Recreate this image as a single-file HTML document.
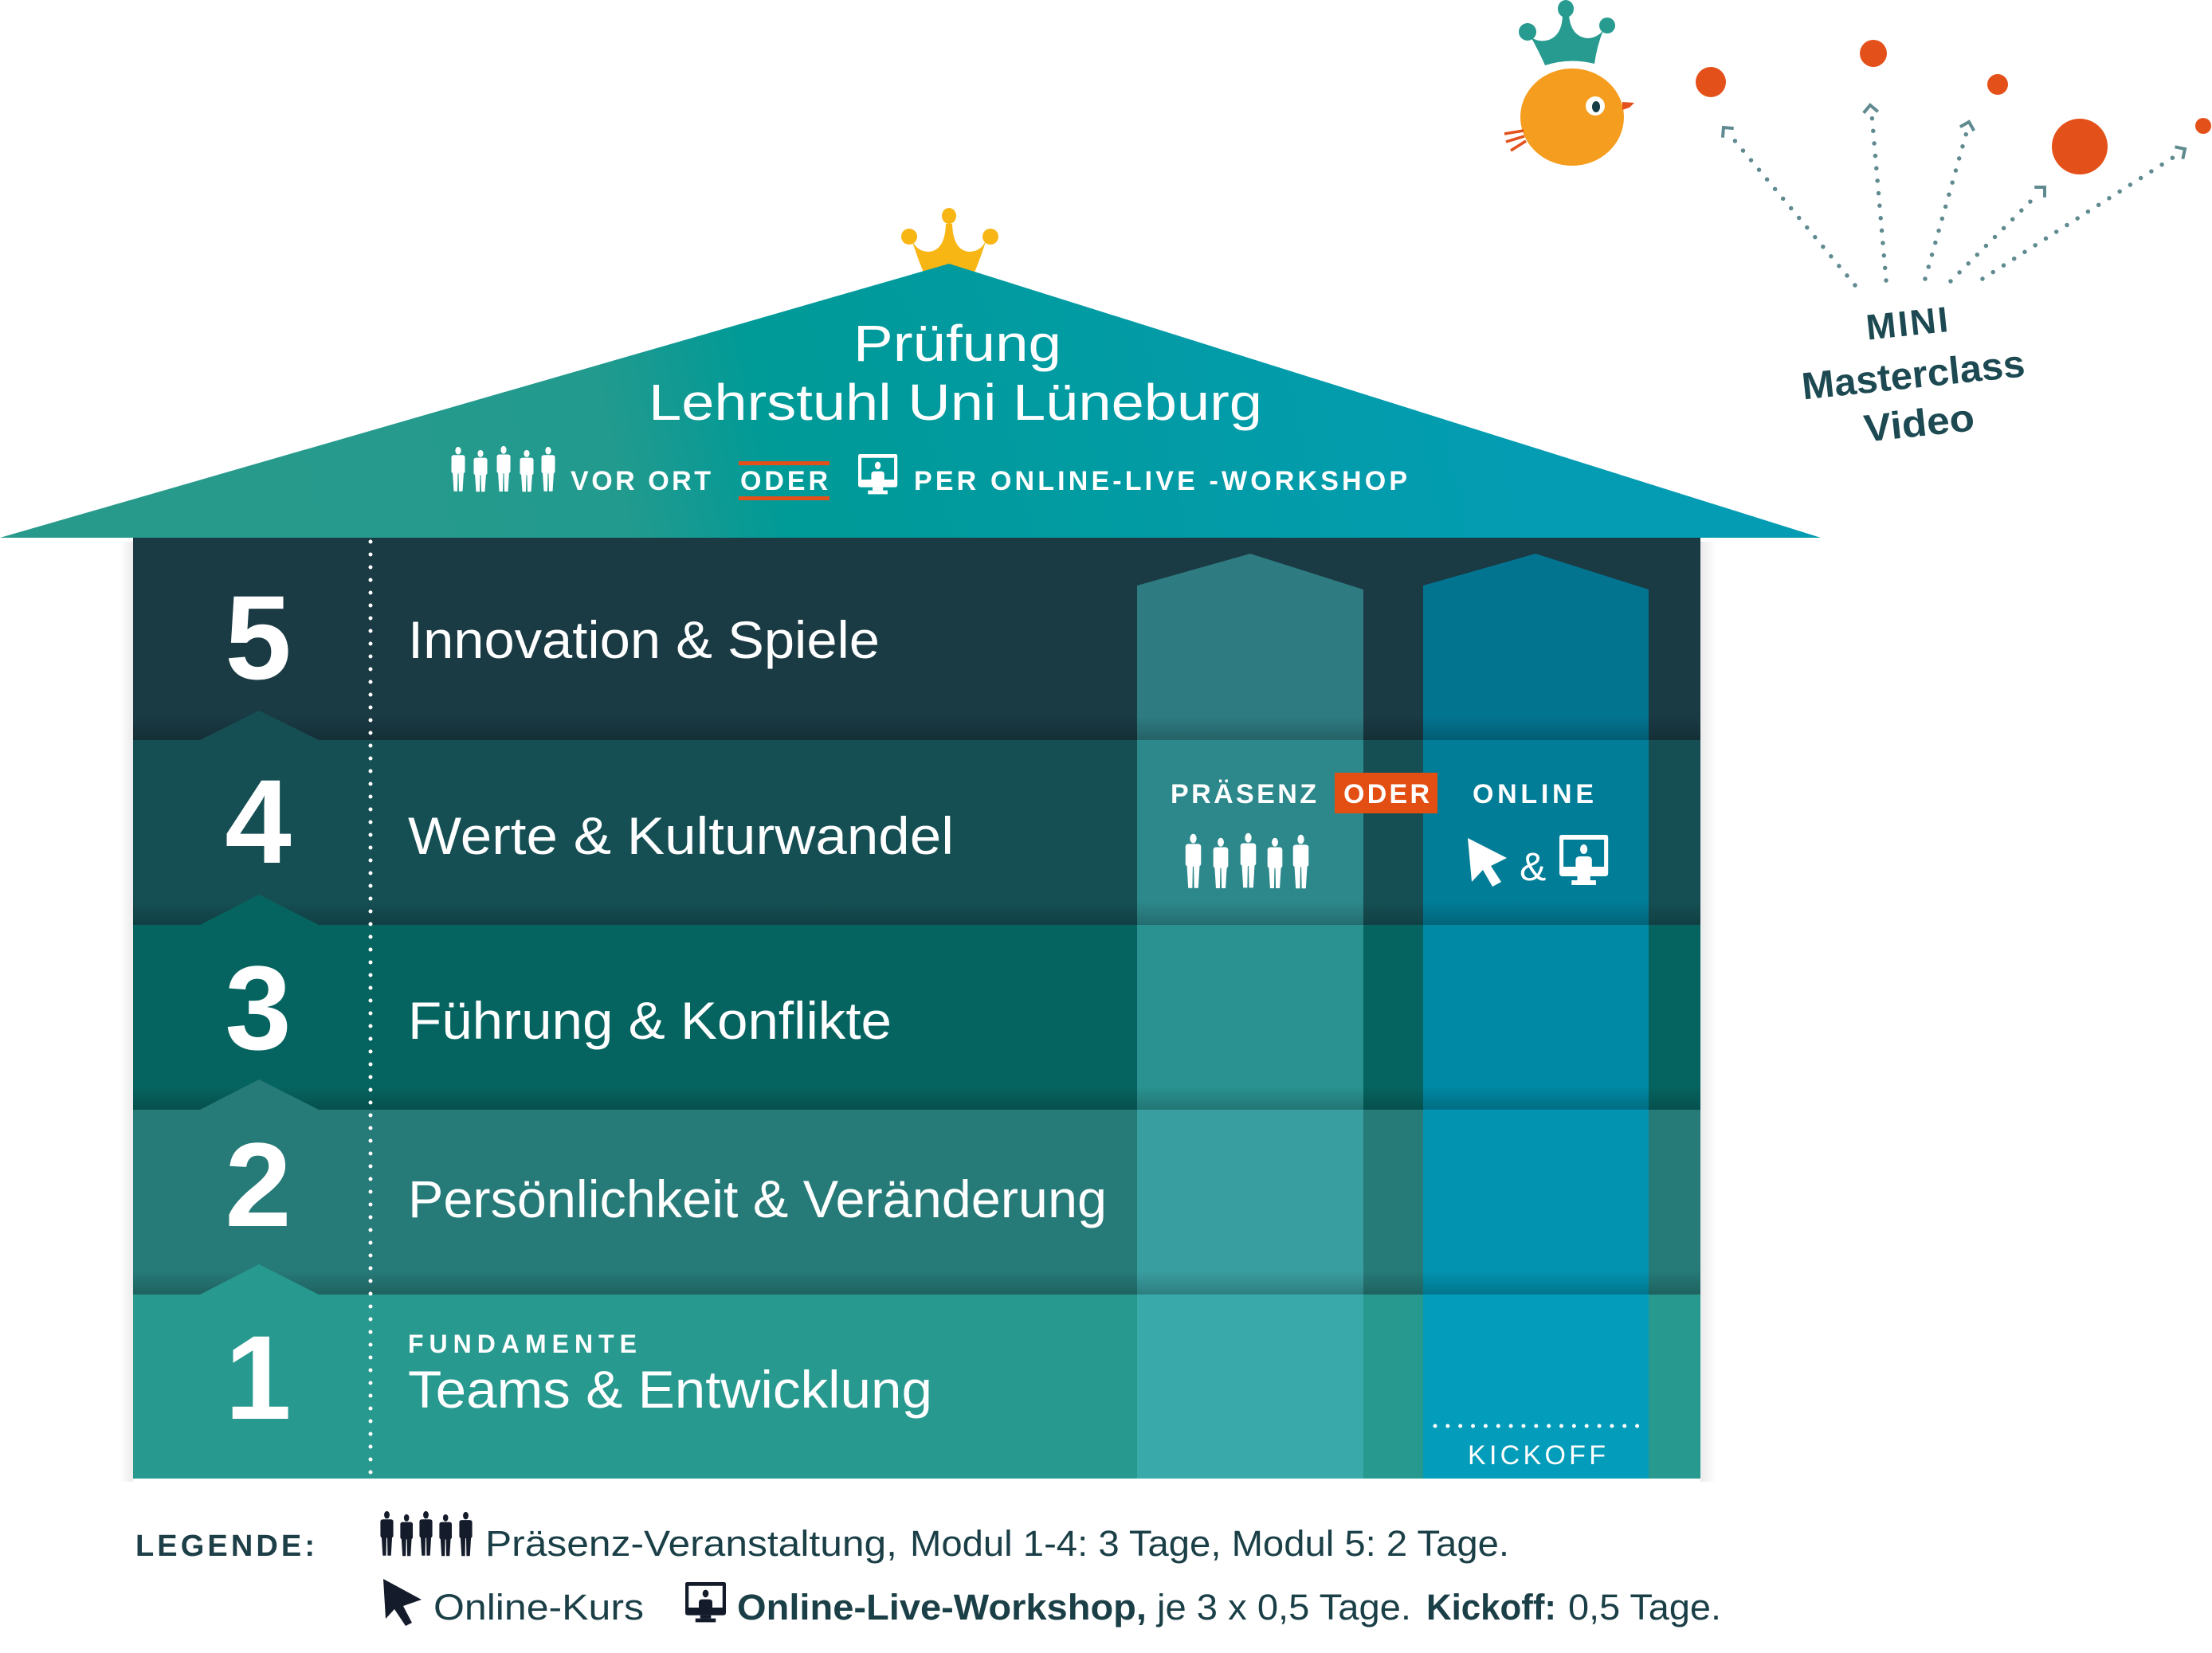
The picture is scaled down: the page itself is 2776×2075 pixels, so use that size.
<!DOCTYPE html>
<html><head><meta charset="utf-8"><style>
html,body{margin:0;padding:0;background:#fff;width:2776px;height:2075px;overflow:hidden}
svg{display:block}
</style></head><body>
<svg width="2776" height="2075" viewBox="0 0 2776 2075" xmlns="http://www.w3.org/2000/svg" font-family="'Liberation Sans', Arial, sans-serif">
<defs>
  <linearGradient id="roofG" gradientUnits="userSpaceOnUse" x1="300" y1="720" x2="1900" y2="380">
    <stop offset="0" stop-color="#289a8c"/>
    <stop offset="0.3" stop-color="#229a8e"/>
    <stop offset="0.42" stop-color="#009a97"/>
    <stop offset="1" stop-color="#039cb3"/>
  </linearGradient>
  <linearGradient id="shade" x1="0" y1="0" x2="0" y2="1">
    <stop offset="0" stop-color="#000" stop-opacity="0"/>
    <stop offset="1" stop-color="#000" stop-opacity="0.2"/>
  </linearGradient>
  <linearGradient id="rsh" x1="0" y1="0" x2="1" y2="0">
    <stop offset="0" stop-color="#000" stop-opacity="0.08"/>
    <stop offset="1" stop-color="#000" stop-opacity="0"/>
  </linearGradient>
  <g id="fig">
    <ellipse cx="10" cy="5" rx="3.6" ry="5.2"/>
    <rect x="1.5" y="11" width="17" height="25" rx="3"/>
    <path d="M3,34 H9.5 L9,60 H4.5 Z M10.5,34 H17 L15.5,60 H11 Z"/>
  </g>
  <g id="mon">
    <path fill-rule="evenodd" d="M0,3 Q0,0 3,0 H57 Q60,0 60,3 V48 Q60,52 56,52 H4 Q0,52 0,48 Z M5,6 V40 H55 V6 Z"/>
    <ellipse cx="30" cy="18" rx="4.5" ry="6"/>
    <path d="M20,40 V32 Q20,27 25,27 H35 Q40,27 40,32 V40 Z"/>
    <rect x="22" y="52" width="16" height="5"/>
    <rect x="15" y="57" width="30" height="6"/>
  </g>
</defs>

<!-- Roof crown -->
<g fill="#f7b614">
  <ellipse cx="1191" cy="271" rx="9" ry="10"/>
  <circle cx="1141" cy="297" r="10"/>
  <circle cx="1243" cy="297" r="10"/>
  <path d="M1144,300 Q1150,320 1159,342 L1223,342 Q1232,320 1238,300 Q1232,316 1216,316 Q1196,314 1195,281 L1187,281 Q1186,314 1166,316 Q1150,316 1144,300 Z"/>
</g>

<!-- Roof -->
<polygon points="0,675 1191,331 2285,675" fill="url(#roofG)"/>
<text x="1071" y="453" font-size="64" fill="#fff" textLength="261" lengthAdjust="spacingAndGlyphs">Prüfung</text>
<text x="814" y="527" font-size="64" fill="#fff" textLength="770" lengthAdjust="spacingAndGlyphs">Lehrstuhl Uni Lüneburg</text>
<g fill="#fff">
  <use href="#fig" transform="translate(565,561) scale(1,0.93)"/>
  <use href="#fig" transform="translate(593,565) scale(1,0.87)"/>
  <use href="#fig" transform="translate(622,560) scale(1,0.95)"/>
  <use href="#fig" transform="translate(651,565) scale(1,0.87)"/>
  <use href="#fig" transform="translate(678,561) scale(1,0.93)"/>
  <use href="#mon" transform="translate(1077,570) scale(0.82,0.8)"/>
</g>
<text x="716" y="615" font-size="34" font-weight="bold" fill="#fff" textLength="176" lengthAdjust="spacing">VOR ORT</text>
<rect x="927" y="579" width="114" height="5" fill="#e4501a"/>
<rect x="927" y="623" width="114" height="5" fill="#e4501a"/>
<text x="929" y="615" font-size="34" font-weight="bold" fill="#fff" textLength="110" lengthAdjust="spacing">ODER</text>
<text x="1147" y="615" font-size="34" font-weight="bold" fill="#fff" textLength="619" lengthAdjust="spacing">PER ONLINE-LIVE -WORKSHOP</text>

<!-- Building shadow -->
<rect x="2134" y="680" width="20" height="1180" fill="url(#rsh)"/>
<rect x="150" y="680" width="17" height="1180" fill="url(#rsh)" transform="matrix(-1,0,0,1,317,0)"/>

<!-- Row 5 -->
<rect x="167" y="675" width="1967" height="254" fill="#1a3a44"/>
<polygon points="1427,735 1569,695 1711,740 1711,929 1427,929" fill="#2e7b81"/>
<polygon points="1786,735 1927,695 2069,740 2069,929 1786,929" fill="#037490"/>
<!-- Row 4 -->
<rect x="167" y="929" width="1967" height="232" fill="#154f54"/>
<rect x="1427" y="929" width="284" height="232" fill="#2d888b"/>
<rect x="1786" y="929" width="283" height="232" fill="#027d97"/>
<!-- Row 3 -->
<rect x="167" y="1161" width="1967" height="232" fill="#066460"/>
<rect x="1427" y="1161" width="284" height="232" fill="#2a9391"/>
<rect x="1786" y="1161" width="283" height="232" fill="#0089a4"/>
<!-- Row 2 -->
<rect x="167" y="1393" width="1967" height="232" fill="#267a78"/>
<rect x="1427" y="1393" width="284" height="232" fill="#399ea0"/>
<rect x="1786" y="1393" width="283" height="232" fill="#0293b0"/>
<!-- Row 1 -->
<rect x="167" y="1625" width="1967" height="231" fill="#27998f"/>
<rect x="1427" y="1625" width="284" height="231" fill="#3aa9aa"/>
<rect x="1786" y="1625" width="283" height="231" fill="#039cba"/>

<!-- Row bottom shading -->
<rect x="167" y="899" width="1967" height="30" fill="url(#shade)"/>
<rect x="167" y="1131" width="1967" height="30" fill="url(#shade)"/>
<rect x="167" y="1363" width="1967" height="30" fill="url(#shade)"/>
<rect x="167" y="1595" width="1967" height="30" fill="url(#shade)"/>

<!-- Notches -->
<polygon points="250,929.5 325,892 401,929.5" fill="#154f54"/>
<polygon points="250,1161.5 325,1123 401,1161.5" fill="#066460"/>
<polygon points="250,1393.5 325,1355 401,1393.5" fill="#267a78"/>
<polygon points="250,1625.5 325,1587 401,1625.5" fill="#27998f"/>

<!-- Dotted divider -->
<line x1="465" y1="680" x2="465" y2="1856" stroke="#fff" stroke-width="5" stroke-linecap="round" stroke-dasharray="0 16"/>

<!-- Numbers -->
<g font-size="150" font-weight="bold" fill="#fff" text-anchor="middle">
  <text x="324" y="852">5</text>
  <text x="324" y="1083">4</text>
  <text x="324" y="1317">3</text>
  <text x="324" y="1539">2</text>
  <text x="324" y="1781">1</text>
</g>

<!-- Row labels -->
<g font-size="66" fill="#fff">
  <text x="512" y="826" textLength="592" lengthAdjust="spacingAndGlyphs">Innovation &amp; Spiele</text>
  <text x="512" y="1072" textLength="685" lengthAdjust="spacingAndGlyphs">Werte &amp; Kulturwandel</text>
  <text x="512" y="1304" textLength="607" lengthAdjust="spacingAndGlyphs">Führung &amp; Konflikte</text>
  <text x="512" y="1528" textLength="877" lengthAdjust="spacingAndGlyphs">Persönlichkeit &amp; Veränderung</text>
  <text x="512" y="1767" textLength="658" lengthAdjust="spacingAndGlyphs">Teams &amp; Entwicklung</text>
</g>
<text x="512" y="1698" font-size="32" font-weight="bold" fill="#fff" textLength="287" lengthAdjust="spacing">FUNDAMENTE</text>

<!-- Pillar labels -->
<text x="1469" y="1008" font-size="34" font-weight="bold" fill="#fff" textLength="183" lengthAdjust="spacing">PRÄSENZ</text>
<rect x="1675" y="970" width="129" height="51" fill="#e34e13"/>
<text x="1686" y="1008" font-size="34" font-weight="bold" fill="#fff" textLength="108" lengthAdjust="spacing">ODER</text>
<text x="1848" y="1008" font-size="34" font-weight="bold" fill="#fff" textLength="152" lengthAdjust="spacing">ONLINE</text>
<g fill="#fff">
  <use href="#fig" transform="translate(1486,1047) scale(1.15,1.13)"/>
  <use href="#fig" transform="translate(1521,1052) scale(1.1,1.05)"/>
  <use href="#fig" transform="translate(1555,1046) scale(1.15,1.14)"/>
  <use href="#fig" transform="translate(1589,1052) scale(1.1,1.05)"/>
  <use href="#fig" transform="translate(1621,1048) scale(1.15,1.12)"/>
  <polygon points="1842,1052 1847,1107 1861,1092 1873,1113 1884,1107 1871,1087 1891,1077"/>
  <use href="#mon" transform="translate(1957,1048) scale(1.02,1.0)"/>
</g>
<text x="1907" y="1105" font-size="50" fill="#fff">&amp;</text>

<!-- Kickoff -->
<line x1="1801" y1="1790" x2="2055" y2="1790" stroke="#fff" stroke-width="5" stroke-linecap="round" stroke-dasharray="0 15.85"/>
<text x="1842" y="1838" font-size="34" fill="#fff" textLength="173" lengthAdjust="spacing">KICKOFF</text>

<!-- Legend -->
<text x="170" y="1953" font-size="38" font-weight="bold" fill="#1d3f47" textLength="225" lengthAdjust="spacing">LEGENDE:</text>
<g fill="#141b2b">
  <use href="#fig" transform="translate(476,1897) scale(0.95,0.93)"/>
  <use href="#fig" transform="translate(501,1901) scale(0.92,0.87)"/>
  <use href="#fig" transform="translate(525,1897) scale(0.95,0.93)"/>
  <use href="#fig" transform="translate(550,1901) scale(0.92,0.87)"/>
  <use href="#fig" transform="translate(575,1898) scale(0.95,0.92)"/>
  <polygon points="481,1982 484,2032 495,2020 509,2041 517,2037 506,2016 529,2008"/>
  <use href="#mon" transform="translate(860,1986) scale(0.85,0.8)"/>
</g>
<g font-size="45" fill="#1b3f47">
  <text x="609" y="1953" textLength="517" lengthAdjust="spacingAndGlyphs">Präsenz-Veranstaltung,</text>
  <text x="1142" y="1953" textLength="752" lengthAdjust="spacingAndGlyphs">Modul 1-4: 3 Tage, Modul 5: 2 Tage.</text>
  <text x="544" y="2033" textLength="264" lengthAdjust="spacingAndGlyphs">Online-Kurs</text>
  <text x="925" y="2033" font-weight="bold" textLength="514" lengthAdjust="spacingAndGlyphs">Online-Live-Workshop,</text>
  <text x="1452" y="2033" textLength="319" lengthAdjust="spacingAndGlyphs">je 3 x 0,5 Tage.</text>
  <text x="1790" y="2033" font-weight="bold" textLength="163" lengthAdjust="spacingAndGlyphs">Kickoff:</text>
  <text x="1968" y="2033" textLength="192" lengthAdjust="spacingAndGlyphs">0,5 Tage.</text>
</g>

<!-- Bird -->
<g fill="#289b90">
  <ellipse cx="1965" cy="11" rx="10" ry="11"/>
  <circle cx="1917" cy="40" r="11"/>
  <circle cx="2017" cy="32" r="10"/>
  <path d="M1921,46 Q1932,66 1939,82 Q1970,72 2001,80 Q2004,58 2012,38 Q2004,48 1992,48 Q1972,46 1969,20 L1961,20 Q1960,44 1944,50 Q1930,54 1921,46 Z"/>
</g>
<ellipse cx="1973" cy="147" rx="65" ry="61" fill="#f59d1e"/>
<ellipse cx="2002" cy="133" rx="12" ry="12" fill="#fff"/>
<ellipse cx="2003" cy="134" rx="5" ry="7" fill="#163c44"/>
<polygon points="2036,128 2051,129 2045,135 2036,138" fill="#e4501a"/>
<g stroke="#e4501a" stroke-width="3.5">
  <line x1="1888" y1="168" x2="1912" y2="164"/>
  <line x1="1890" y1="178" x2="1913" y2="171"/>
  <line x1="1896" y1="189" x2="1915" y2="177"/>
</g>

<!-- Orange dots -->
<g fill="#e4501a">
  <circle cx="2147" cy="103" r="19"/>
  <circle cx="2351" cy="67" r="17"/>
  <circle cx="2507" cy="106" r="13"/>
  <circle cx="2610" cy="184" r="35"/>
  <circle cx="2765" cy="158" r="10"/>
</g>

<!-- Dotted arrows -->
<g stroke="#5f8b90" stroke-linecap="round" fill="none">
  <g stroke-width="5.5" stroke-dasharray="0 15.7">
    <line x1="2328" y1="358" x2="2170" y2="168"/>
    <line x1="2367" y1="352" x2="2349" y2="144"/>
    <line x1="2416" y1="350" x2="2468" y2="166"/>
    <line x1="2448" y1="353" x2="2558" y2="243"/>
    <line x1="2488" y1="350" x2="2733" y2="194"/>
  </g>
  <g stroke-width="4" stroke-linecap="butt" stroke-linejoin="miter">
    <polyline points="2175.7,161.1 2163,160 2161.9,172.7"/>
    <polyline points="2356.8,140.2 2347,132 2338.8,141.8"/>
    <polyline points="2477.3,164.1 2471,153 2459.9,159.3"/>
    <polyline points="2566,247.8 2566,235 2553.2,235"/>
    <polyline points="2739.3,199.5 2742,187 2729.5,184.3"/>
  </g>
</g>

<!-- MINI Masterclass Video -->
<g transform="rotate(-6 2400 470)" fill="#1d4a52" font-weight="bold" text-anchor="middle">
  <text x="2400" y="421" font-size="45" textLength="103" lengthAdjust="spacing">MINI</text>
  <text x="2401" y="487" font-size="48" textLength="281" lengthAdjust="spacingAndGlyphs">Masterclass</text>
  <text x="2402" y="548" font-size="48" textLength="139" lengthAdjust="spacingAndGlyphs">Video</text>
</g>
</svg>
</body></html>
